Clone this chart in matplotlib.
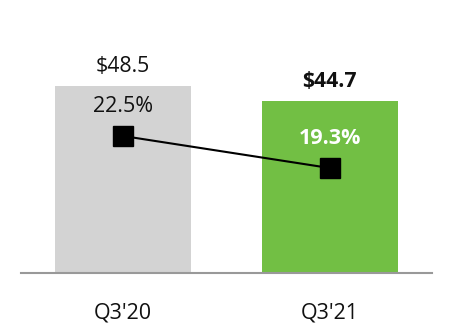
import matplotlib
matplotlib.use('Agg')
import matplotlib.pyplot as plt

plt.rcParams['font.family'] = ['Open Sans', 'DejaVu Sans']

# data
quarters = ["Q3'20", "Q3'21"]
revenue = [48.5, 44.7]
margin = [22.5, 19.3]
bar_colors = ['#d3d3d3', '#72bf44']

fig = plt.figure(figsize=(4.52, 3.32), dpi=100)
ax = fig.add_axes([21 / 452, 59 / 332, 411 / 452, 273 / 332])
x = list(range(len(quarters)))

ax.bar(x, revenue, width=0.659, color=bar_colors, zorder=2)
ax.set_xlim(-0.494, 1.496)
ax.set_ylim(0, 70.8)

# value labels above bars
for i, v in enumerate(revenue):
    bold = i == len(revenue) - 1
    ax.annotate('$%.1f' % v, (x[i], v), xytext=(0, 13.7), textcoords='offset points',
                ha='center', va='center', fontsize=15.3, color='#111111',
                fontweight='bold' if bold else 'normal')

# margin line on second axis
ax2 = ax.twinx()
ax2.set_ylim(8.8, 36.1)
ax2.plot(x, margin, color='black', lw=1.5, marker='s', markersize=14, zorder=3)
for i, m in enumerate(margin):
    last = i == len(margin) - 1
    ax2.annotate('%.1f%%' % m, (x[i], m), xytext=(0, 21), textcoords='offset points',
                 ha='center', va='center', fontsize=15.5,
                 color='white' if last else '#111111',
                 fontweight='bold' if last else 'normal')

# axes styling
for a in (ax, ax2):
    for s in ['top', 'right', 'left']:
        a.spines[s].set_visible(False)
    a.set_yticks([])
ax2.spines['bottom'].set_visible(False)
ax.spines['bottom'].set_color('#999999')
ax.spines['bottom'].set_linewidth(1.5)
ax.set_xticks(x)
ax.set_xticklabels(quarters, fontsize=15.5, color='#111111')
ax.tick_params(axis='x', length=0, pad=21)

fig.savefig('out.png', dpi=100)
